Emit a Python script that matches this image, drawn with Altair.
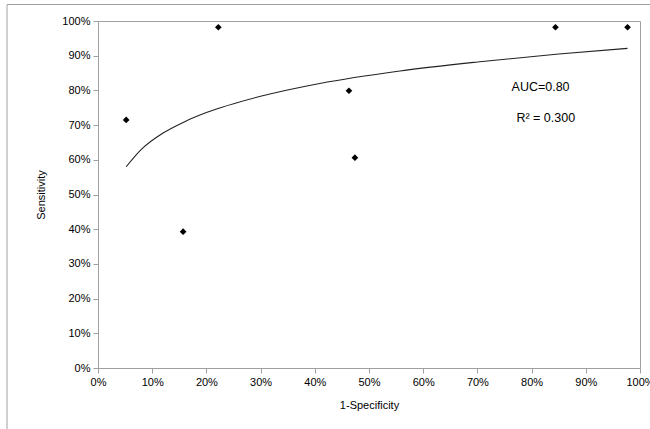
import altair as alt
import pandas as pd

# Data points (1-Specificity, Sensitivity)
fpr = [0.052, 0.157, 0.222, 0.463, 0.474, 0.844, 0.977]
sens = [0.715, 0.393, 0.982, 0.799, 0.606, 0.982, 0.982]

# Trend line
trend_x = [0.052, 0.08, 0.12, 0.16, 0.20, 0.30, 0.409, 0.557, 0.70, 0.85, 0.977]
trend_y = [0.580, 0.630, 0.677, 0.710, 0.736, 0.783, 0.820, 0.856, 0.882, 0.905, 0.921]

# Annotations
ann_x = [0.763, 0.772]
ann_y = [0.811, 0.721]
ann_text = ["AUC=0.80", "R\u00b2 = 0.300"]

tick_vals = [i / 10 for i in range(11)]

W, H = 542, 347
GRAY = "#a0a0a0"
FONT = "Liberation Sans"

pts = pd.DataFrame({"fpr": fpr, "sens": sens})
trend = pd.DataFrame({"fpr": trend_x, "sens": trend_y})
ann = pd.DataFrame({"fpr": ann_x, "sens": ann_y, "t": ann_text})

xs = alt.Scale(domain=[0, 1], nice=False, zero=False)
ys = alt.Scale(domain=[0, 1], nice=False, zero=False)

x_axis = alt.Axis(values=tick_vals, tickCount=11, format=".0%", grid=False, domainColor=GRAY,
                  tickColor=GRAY, tickSize=5, labelPadding=3, labelFont=FONT,
                  labelFontSize=11, labelColor="black", labelBound=False,
                  labelFlush=False, labelOverlap=False, titleFont=FONT,
                  titleFontSize=11, titleFontWeight="normal", titleColor="black",
                  titlePadding=12, title="1-Specificity")
y_axis = alt.Axis(values=tick_vals, tickCount=11, format=".0%", grid=False, domainColor=GRAY,
                  tickColor=GRAY, tickSize=5, labelPadding=3, labelFont=FONT,
                  labelFontSize=11, labelColor="black", labelOverlap=False,
                  labelBound=False, labelFlush=False,
                  titleFont=FONT, titleFontSize=11, titleFontWeight="normal",
                  titleColor="black", titlePadding=15, title="Sensitivity")

X = alt.X("fpr:Q", scale=xs, axis=x_axis)
Y = alt.Y("sens:Q", scale=ys, axis=y_axis)

border = alt.Chart(pd.DataFrame({"a": [0]})).mark_rect(
    fillOpacity=0, stroke=GRAY, strokeWidth=1
).encode(
    x=alt.value(-91), x2=alt.value(W + 100),
    y=alt.value(-16.5), y2=alt.value(H + 100)
)

points = alt.Chart(pts).mark_point(
    shape="diamond", filled=True, color="black", size=45, opacity=1
).encode(x=X, y=Y)

line = alt.Chart(trend).mark_line(
    color="#222222", strokeWidth=1.1, interpolate="monotone"
).encode(x=X, y=Y)

texts = alt.Chart(ann).mark_text(
    align="left", baseline="middle", font=FONT, fontSize=12.5, color="black"
).encode(x=X, y=Y, text="t:N")

chart = alt.layer(border, line, points, texts).properties(
    width=W, height=H,
    autosize=alt.AutoSizeParams(type="none"),
    padding={"left": 98, "top": 21, "right": 10, "bottom": 61},
    background="white",
).configure_view(stroke=GRAY, strokeWidth=1)

chart.save("out.html", embed_options={"renderer": "svg", "actions": False})
